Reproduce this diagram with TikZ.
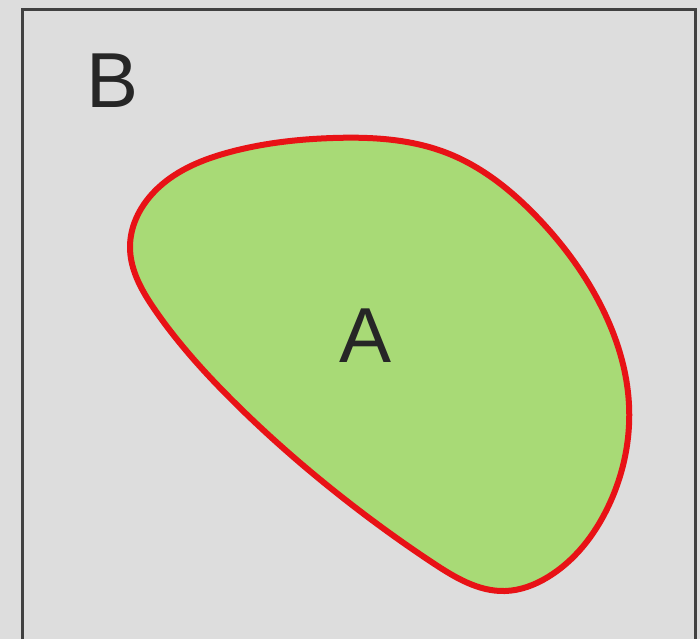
\documentclass[tikz,border=0pt]{standalone}
\usepackage{fontspec}
\setmainfont{Liberation Sans}
\usetikzlibrary{hobby}
\begin{document}
\begin{tikzpicture}[x=1pt,y=-1pt,
  lbl/.style={inner sep=0pt,text=black!85,font=\fontsize{78}{78}\selectfont}]
\definecolor{bg}{RGB}{221,221,221}
\definecolor{blobfill}{RGB}{168,218,118}
\definecolor{blobline}{RGB}{232,18,22}
\useasboundingbox (0,0) rectangle (700,639);
\fill[bg] (0,0) rectangle (700,639);
\draw[line width=3pt,black!75,fill=bg] (22,639) -- (22,10) -- (695,10) -- (695,639);
\draw[line width=6pt,blobline,fill=blobfill] plot[closed hobby] coordinates {
 (130,247) (158,188) (230,152) (333,138) (447,153) (537,217) (598,300)
 (629,405) (608,507) (548,577) (505,591) (433,563) (333,490) (230,398)
 (155,310)};
\node[lbl] (B) at (113,81) {B};
\node[lbl] (A) at (366,336) {A};
\end{tikzpicture}
\end{document}
